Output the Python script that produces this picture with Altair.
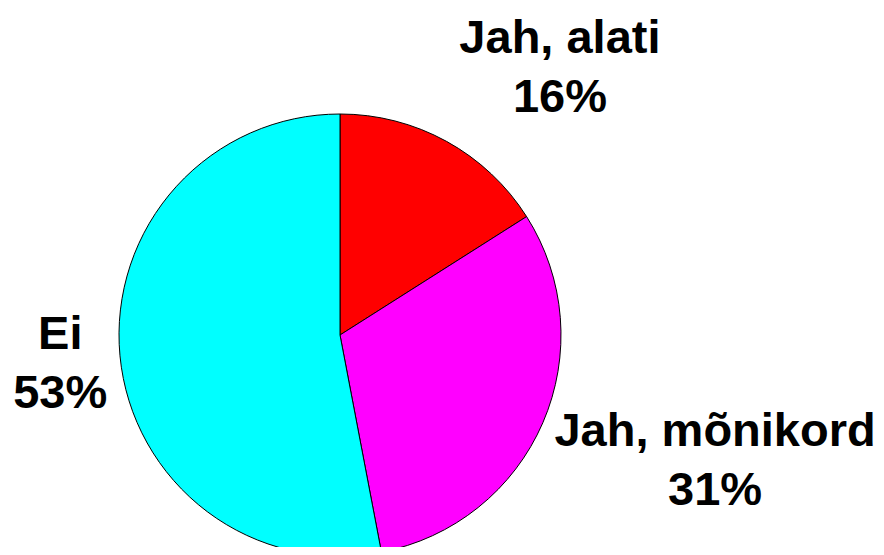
import altair as alt
import pandas as pd

categories = ["Jah, alati", "Jah, mõnikord", "Ei"]
percents = [16, 31, 53]
colors = ["#FF0000", "#FF00FF", "#00FFFF"]

df = pd.DataFrame({"cat": categories, "pct": percents, "ord": [0, 1, 2]})

CX, CY, R = 332, 327, 221

base = alt.Chart(df).encode(
    theta=alt.Theta("pct:Q", stack=True),
    order=alt.Order("ord:Q"),
)

pie = base.mark_arc(radius=R, stroke="black", strokeWidth=1).encode(
    x=alt.value(CX),
    y=alt.value(CY),
    color=alt.Color("cat:N", scale=alt.Scale(domain=categories, range=colors), legend=None),
)

label_cfg = {
    "Jah, alati": dict(radius=305, dx=73, dy=-29),
    "Jah, mõnikord": dict(radius=315, dx=86, dy=-28),
    "Ei": dict(radius=281, dx=0, dy=-26),
}

layers = [pie]
for cat in categories:
    cfg = label_cfg[cat]
    t = base.transform_calculate(
        label="datum.cat + '\\n' + datum.pct + '%'"
    ).mark_text(
        radius=cfg["radius"], dx=cfg["dx"], dy=cfg["dy"],
        font="Liberation Sans", fontWeight="bold", fontSize=47,
        lineBreak="\n", lineHeight=59, align="center", baseline="middle",
        color="black",
    ).encode(
        x=alt.value(CX),
        y=alt.value(CY),
        text="label:N",
        opacity=alt.condition(f"datum.cat == '{cat}'", alt.value(1), alt.value(0)),
    )
    layers.append(t)

chart = alt.layer(*layers).properties(
    width=868, height=539, autosize=alt.AutoSizeParams(type="none"), padding=0
).configure_view(stroke=None)

chart.save("out.html", embed_options={"renderer": "svg", "actions": False})
